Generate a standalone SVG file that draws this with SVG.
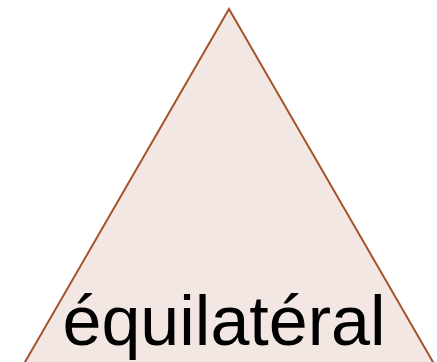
<svg xmlns="http://www.w3.org/2000/svg" width="437" height="362" viewBox="0 0 437 362">
<style>
.tri{fill:#f3e7e4;stroke:#a5532a;stroke-width:2;stroke-linejoin:miter}
.lbl{font-family:"Liberation Sans",Arial,sans-serif;font-size:70px;fill:#000}
</style>
<rect width="437" height="362" fill="#ffffff"/>
<g id="triangle">
<polygon class="tri" points="229,9 20.4,370 437.6,370"/>
<text class="lbl" x="224" y="345" text-anchor="middle">équilatéral</text>
</g>
</svg>
